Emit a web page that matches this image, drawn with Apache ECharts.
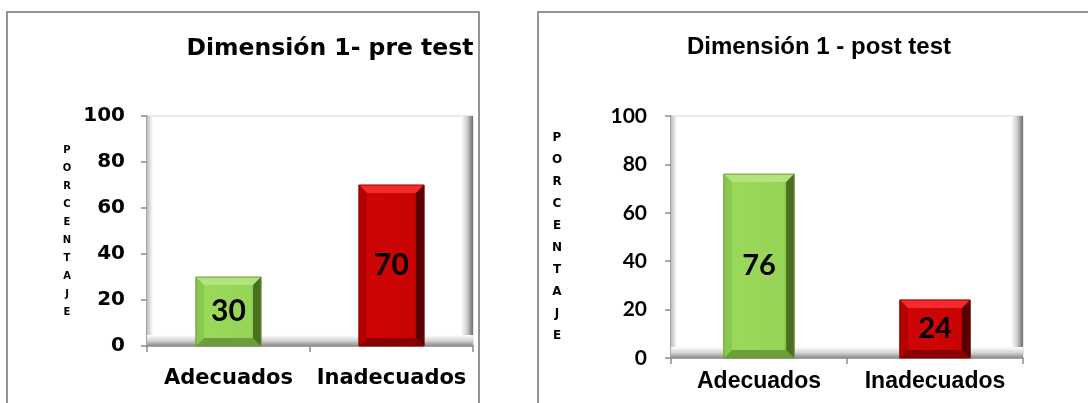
<!DOCTYPE html>
<html>
<head>
<meta charset="utf-8">
<script src="https://cdn.jsdelivr.net/npm/echarts@6/dist/echarts.min.js"></script>
<style>
  html, body { margin: 0; padding: 0; background: #ffffff; }
  #chart { width: 1088px; height: 403px; }
</style>
</head>
<body>
<div id="chart"></div>
<script>
// Categories and percentages for both panels
const categories = ['Adecuados', 'Inadecuados'];
const preTest = [30, 70];
const postTest = [76, 24];
const titles = ['Dimensión 1- pre test', 'Dimensión 1 - post test'];
const axisTitle = 'PORCENTAJE';
const yMin = 0, yMax = 100, yStep = 20;

// Plot-area placement of each panel
const gridPre = { left: 147, top: 116, width: 326, height: 230 };
const gridPost = { left: 671, top: 116, width: 352, height: 242 };

// Bevelled bar colours (per category)
const palette = [
  { body: ['#8cc64f', '#9bd95b', '#96d457', '#4d7524'], top: '#b2e37d', bottom: '#6f9d3b', left: '#8ac84d', right: '#4a6f22', edge: '#6a9a36' },
  { body: ['#b80000', '#cf0505', '#c80303', '#5a0000'], top: '#f52a2a', bottom: '#8a0000', left: '#b50000', right: '#560000', edge: '#8a0000' }
];

const stackedName = axisTitle.split('').join('\n');

function hGrad(stops) {
  return new echarts.graphic.LinearGradient(0, 0, 1, 0, stops.map((c, i) => ({ offset: [0, 0.12, 0.85, 1][i], color: c })));
}

function bevelBar(labelFont) {
  return function (params, api) {
    const idx = api.value(0);
    const v = api.value(1);
    const top = api.coord([idx, v]);
    const base = api.coord([idx, 0]);
    const w = api.size([1, 0])[0] * 0.4;
    const x0 = top[0] - w / 2, x1 = top[0] + w / 2;
    const y0 = top[1], y1 = base[1];
    const h = y1 - y0;
    const b = Math.min(8, h / 4, w / 4);
    const c = palette[idx];
    return {
      type: 'group',
      children: [
        { type: 'rect', shape: { x: x0, y: y0, width: w, height: h }, style: { fill: hGrad(c.body) } },
        { type: 'polygon', shape: { points: [[x0, y0], [x1, y0], [x1 - b, y0 + b], [x0 + b, y0 + b]] }, style: { fill: c.top } },
        { type: 'polygon', shape: { points: [[x0, y1], [x1, y1], [x1 - b, y1 - b], [x0 + b, y1 - b]] }, style: { fill: c.bottom } },
        { type: 'polygon', shape: { points: [[x0, y0], [x0 + b, y0 + b], [x0 + b, y1 - b], [x0, y1]] }, style: { fill: c.left } },
        { type: 'polygon', shape: { points: [[x1, y0], [x1 - b, y0 + b], [x1 - b, y1 - b], [x1, y1]] }, style: { fill: c.right } },
        { type: 'rect', shape: { x: x0, y: y0, width: w, height: h }, style: { fill: 'none', stroke: c.edge, lineWidth: 1 } },
        {
          type: 'text',
          style: {
            x: top[0], y: (y0 + y1) / 2, text: String(v),
            align: 'center', verticalAlign: 'middle',
            fontFamily: labelFont.family, fontSize: labelFont.size, fontWeight: 'bold', fill: '#000000'
          }
        }
      ]
    };
  };
}

// Inner "3D" walls of each plot area
function walls(g) {
  const right = g.left + g.width, bottom = g.top + g.height;
  return [
    {
      type: 'rect', z: 1, silent: true,
      shape: { x: g.left, y: g.top, width: 6, height: g.height },
      style: { fill: new echarts.graphic.LinearGradient(0, 0, 1, 0, [{ offset: 0, color: '#bdbdbd' }, { offset: 1, color: '#ffffff' }]) }
    },
    {
      type: 'rect', z: 1, silent: true,
      shape: { x: right - 12, y: g.top, width: 12, height: g.height },
      style: { fill: new echarts.graphic.LinearGradient(0, 0, 1, 0, [{ offset: 0, color: '#ffffff' }, { offset: 0.5, color: '#cfcfcf' }, { offset: 1, color: '#6e6e6e' }]) }
    },
    {
      type: 'rect', z: 1, silent: true,
      shape: { x: g.left, y: bottom - 11, width: g.width, height: 11 },
      style: { fill: new echarts.graphic.LinearGradient(0, 0, 0, 1, [{ offset: 0, color: '#ffffff' }, { offset: 0.55, color: '#d0d0d0' }, { offset: 1, color: '#8a8a8a' }]) }
    }
  ];
}

const chart = echarts.init(document.getElementById('chart'), null, { renderer: 'canvas' });

const axisLine = { show: true, lineStyle: { color: '#8c8c8c', width: 1.5 } };

const option = {
  backgroundColor: '#ffffff',
  animation: false,
  grid: [
    Object.assign({ show: true, borderColor: '#d6d6d6', borderWidth: 1, backgroundColor: '#ffffff', containLabel: false }, gridPre),
    Object.assign({ show: true, borderColor: '#d6d6d6', borderWidth: 1, backgroundColor: '#ffffff', containLabel: false }, gridPost)
  ],
  xAxis: [
    {
      type: 'category', gridIndex: 0, data: categories,
      axisLine: axisLine,
      axisTick: { show: true, length: 6, lineStyle: { color: '#8c8c8c', width: 1.5 } },
      axisLabel: { interval: 0, hideOverlap: false, margin: 22, fontFamily: 'DejaVu Sans', fontWeight: 'bold', fontSize: 21, color: '#000000' }
    },
    {
      type: 'category', gridIndex: 1, data: categories,
      axisLine: axisLine,
      axisTick: { show: true, length: 6, lineStyle: { color: '#8c8c8c', width: 1.5 } },
      axisLabel: { interval: 0, hideOverlap: false, margin: 12, fontFamily: 'Liberation Sans', fontWeight: 'bold', fontSize: 23, color: '#000000' }
    }
  ],
  yAxis: [
    {
      type: 'value', gridIndex: 0, min: yMin, max: yMax, interval: yStep,
      axisLine: axisLine,
      axisTick: { show: true, length: 6, lineStyle: { color: '#8c8c8c', width: 1.5 } },
      splitLine: { show: false },
      axisLabel: { margin: 22, fontFamily: 'DejaVu Sans', fontWeight: 'bold', fontSize: 20, color: '#000000' },
      name: stackedName, nameLocation: 'middle', nameRotate: 0, nameGap: 80,
      nameTextStyle: { fontFamily: 'DejaVu Sans', fontWeight: 'bold', fontSize: 10, lineHeight: 18, align: 'center', verticalAlign: 'middle', color: '#000000' }
    },
    {
      type: 'value', gridIndex: 1, min: yMin, max: yMax, interval: yStep,
      axisLine: axisLine,
      axisTick: { show: true, length: 6, lineStyle: { color: '#8c8c8c', width: 1.5 } },
      splitLine: { show: false },
      axisLabel: { margin: 24, fontFamily: 'Lato', fontWeight: 'bold', fontSize: 21, color: '#000000' },
      name: stackedName, nameLocation: 'middle', nameRotate: 0, nameGap: 114,
      nameTextStyle: { fontFamily: 'DejaVu Sans', fontWeight: 'bold', fontSize: 12, lineHeight: 22, align: 'center', verticalAlign: 'middle', padding: [0, 0, 14, 0], color: '#000000' }
    }
  ],
  graphic: [
    // panel frames
    { type: 'rect', z: 0, silent: true, shape: { x: 7, y: 12, width: 472, height: 420 }, style: { fill: 'none', stroke: '#949494', lineWidth: 2 } },
    { type: 'rect', z: 0, silent: true, shape: { x: 538, y: 12, width: 600, height: 420 }, style: { fill: 'none', stroke: '#949494', lineWidth: 2 } },
    // panel titles
    { type: 'text', z: 5, style: { x: 330, y: 49, text: titles[0], align: 'center', verticalAlign: 'middle', fontFamily: 'DejaVu Sans', fontWeight: 'bold', fontSize: 23.5, fill: '#000000' } },
    { type: 'text', z: 5, style: { x: 819, y: 47, text: titles[1], align: 'center', verticalAlign: 'middle', fontFamily: 'Liberation Sans', fontWeight: 'bold', fontSize: 24, fill: '#000000' } }
  ].concat(walls(gridPre), walls(gridPost)),
  series: [
    {
      type: 'custom', xAxisIndex: 0, yAxisIndex: 0, z: 3,
      renderItem: bevelBar({ family: 'Lato', size: 30 }),
      data: preTest.map((v, i) => [i, v])
    },
    {
      type: 'custom', xAxisIndex: 1, yAxisIndex: 1, z: 3,
      renderItem: bevelBar({ family: 'Lato', size: 29 }),
      data: postTest.map((v, i) => [i, v])
    }
  ]
};

chart.setOption(option);
</script>
</body>
</html>
